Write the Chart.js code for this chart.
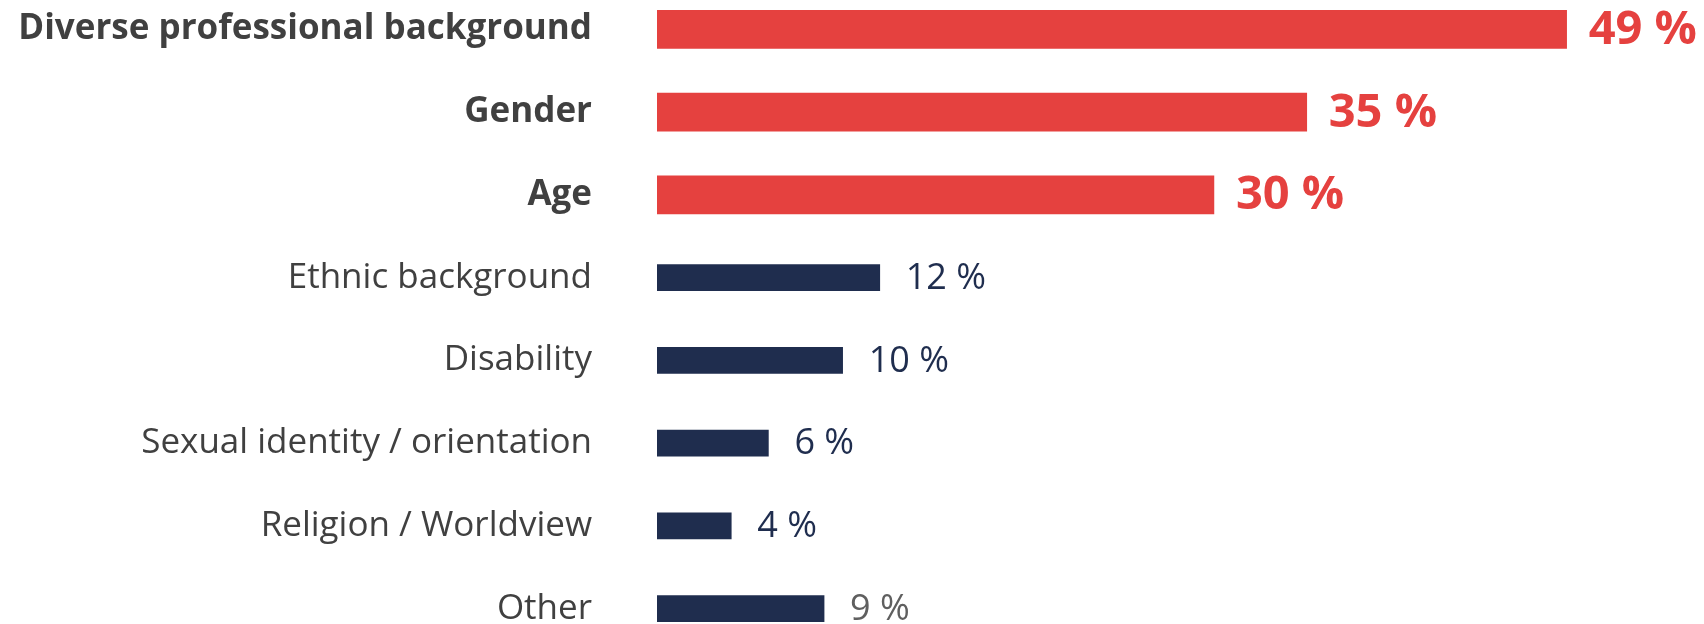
<!DOCTYPE html>
<html>
<head>
<meta charset="utf-8">
<script src="https://cdn.jsdelivr.net/npm/chart.js@4"></script>
<style>
    html, body { margin: 0; padding: 0; background: #fff; overflow: hidden; }
    body { width: 1704px; height: 624px; position: relative; }
    #wrap { position: absolute; left: 0; top: -12px; width: 1704px; height: 662px; }
</style>
</head>
<body>
<div id="wrap"><canvas id="diversity-bar"></canvas></div>
<script>
const categories = [
    "Diverse professional background",
    "Gender",
    "Age",
    "Ethnic background",
    "Disability",
    "Sexual identity / orientation",
    "Religion / Worldview",
    "Other"
];
const shares = [49, 35, 30, 12, 10, 6, 4, 9];
const highlighted = [true, true, true, false, false, false, false, false];

const red = "#E5413F";
const navy = "#1F2D4E";
const grey = "#5F5F5F";
const font_family = "'Segoe UI', 'Open Sans', 'Noto Sans', sans-serif";

// split into highlighted (red) and other (navy) series
const red_values = shares.map((v, i) => highlighted[i] ? v : null);
const navy_values = shares.map((v, i) => highlighted[i] ? null : v);

// draw "NN %" at the end of each bar
const endLabels = {
    id: "endLabels",
    afterDatasetsDraw(chart) {
        const ctx = chart.ctx;
        ctx.save();
        ctx.textBaseline = "middle";
        ctx.textAlign = "left";
        chart.data.datasets.forEach((ds, d) => {
            const meta = chart.getDatasetMeta(d);
            meta.data.forEach((bar, i) => {
                const v = ds.data[i];
                if (v === null) return;
                if (d === 0) {
                    ctx.font = "bold 47px " + font_family;
                    ctx.fillStyle = red;
                    ctx.fillText(v + " %", bar.x + 22, bar.y + 1);
                } else {
                    ctx.font = "36px " + font_family;
                    ctx.fillStyle = categories[i] === "Other" ? grey : navy;
                    ctx.fillText(v + " %", bar.x + 26, bar.y + 1);
                }
            });
        });
        ctx.restore();
    }
};

const bar_data = {
    labels: categories,
    datasets: [{
        label: "Highlighted",
        data: red_values,
        backgroundColor: red,
        barThickness: 38,
        grouped: false
    },
    {
        label: "Other",
        data: navy_values,
        backgroundColor: navy,
        barThickness: 26,
        grouped: false
    }]
};

const config_bar = {
    type: "bar",
    data: bar_data,
    options: {
        indexAxis: "y",
        responsive: true,
        maintainAspectRatio: false,
        animation: false,
        layout: { padding: 0 },
        plugins: {
            legend: { display: false },
            tooltip: { enabled: false }
        },
        scales: {
            x: {
                display: false,
                min: 0,
                max: 56.4
            },
            y: {
                grid: { display: false, drawTicks: false },
                border: { display: false },
                afterFit: (scale) => {
                    scale.width = 657;
                    // tick padding should not shrink the plot vertically
                    scale.paddingTop = 0;
                    scale.paddingBottom = 0;
                },
                ticks: {
                    padding: 65,
                    color: "#404040",
                    font: (c) => ({
                        family: font_family,
                        size: 35,
                        weight: highlighted[c.index] ? "bold" : "normal"
                    })
                }
            }
        }
    },
    plugins: [endLabels]
};

const bar_canvas = document.getElementById("diversity-bar");
new Chart(bar_canvas.getContext("2d"), config_bar);
</script>
</body>
</html>
